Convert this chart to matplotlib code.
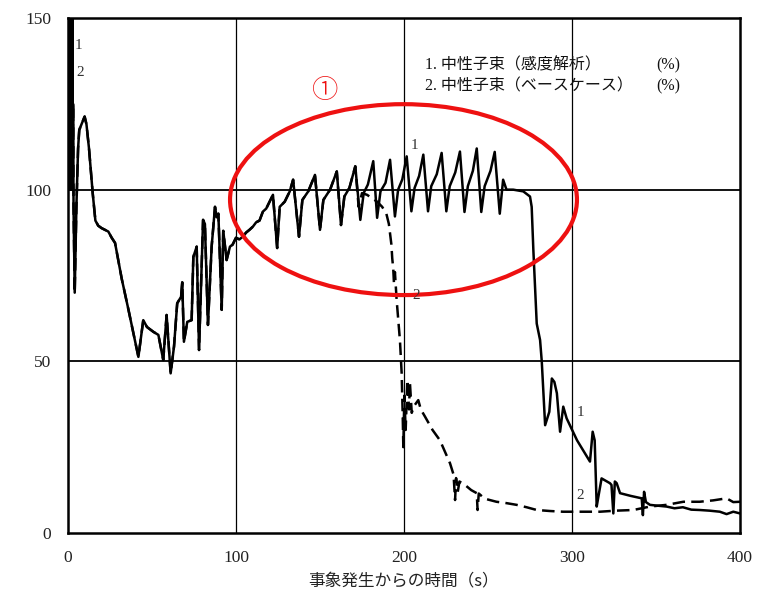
import matplotlib
matplotlib.use("Agg")
import matplotlib.pyplot as plt
from matplotlib.patches import Ellipse

# ---------------- data ----------------
# rapid initial oscillation band (0-2.5 s), drawn as a filled envelope
band_t = [0.0, 1.2, 2.5]
band_lo = [100, 112, 127]
band_hi = [150, 150, 150]

# shared part of both series (they coincide up to ~171 s)
t_common = [0.0, 0.2, 0.4, 0.6, 0.8, 1.0, 1.2, 1.4, 1.6, 1.8, 2.0, 2.2, 2.4, 2.6, 2.8,
            3.0, 3.3, 4.0, 5.0, 6.0,
            6.7, 8.0, 9.9, 11.0, 12.5, 14.7, 16.3, 18.0, 20.0, 24.0, 26.0, 28.0, 32.0,
            36.0, 41.9, 44.8, 47.0, 50.8, 53.8, 56.7, 58.7, 61.1, 63.1, 65.0, 67.3,
            68.0, 69.0, 71.0, 73.6, 74.6, 76.6, 78.0, 80.4, 81.5, 83.3, 85.5, 87.5,
            88.5, 89.5, 91.5, 92.4, 94.4, 96.4, 98.0, 100.0, 102.0, 104.0, 106.0,
            108.0, 110.0, 112.0, 114.0, 116.0, 118.0, 120.0, 122.0, 124.5, 126.0,
            129.0, 132.0, 134.0, 137.5, 139.5, 143.0, 147.0, 150.0, 152.0, 156.0,
            160.0, 162.5, 164.5, 167.5, 171.0]
y_common = [100, 165, 100, 165, 100, 165, 100, 165, 100, 165, 100, 165, 100, 165, 100,
            125, 95, 70, 95, 112,
            117.4, 119, 121.3, 119, 112, 99, 91, 89.5, 88.8, 87.8, 86, 84.5, 74,
            65, 51.3, 62, 60, 58.6, 57.7, 50.4, 63.5, 46.5, 54.3, 66.9, 68.8,
            73, 55.7, 61.5, 62, 80.4, 83.4, 53.3, 91.2, 90, 60.6, 83.4, 95,
            92, 93, 65, 88, 79.5, 83.4, 84, 86, 85.5, 86.3, 87.5,
            88.3, 89.2, 90.5, 91, 93.6, 94.5, 96.5, 98.5, 83, 95,
            96.5, 99.5, 102.9, 86.3, 97, 99.5, 104.3, 88.3, 97, 100,
            105.3, 89.7, 98, 100.5, 106.8]

# series 1 (sensitivity analysis) after 171 s
t1_tail = [174.0, 176.0, 178.5, 181.7, 184.0, 186.0, 189.0, 191.7, 194.6, 196.5, 199.0,
           201.6, 204.4, 206.3, 209.0, 211.5, 214.3, 216.2, 219.5, 222.4, 225.2, 227.2,
           230.5, 233.3, 236.0, 238.0, 241.0, 243.3, 246.0, 248.0, 251.5, 254.0, 257.0,
           259.0, 261.0, 265.0, 271.0, 275.0, 276.0, 277.0, 279.0, 281.0, 282.0, 284.0,
           286.5, 288.0, 289.5, 291.0, 292.9, 294.8, 296.8, 303.0, 310.7, 312.3, 313.5,
           314.7, 315.5, 317.6, 322.6, 323.5, 324.6, 325.5, 326.6, 328.6, 335.0, 341.5,
           342.2, 342.9, 344.0, 346.4, 350.0, 356.3, 361.0, 366.0, 371.0, 376.0, 382.0,
           388.0, 392.0, 396.0, 400.0]
y1_tail = [91.2, 99, 101.5, 108.3, 91.8, 99.5, 102, 108.7, 92.2, 100, 103,
           109.7, 93.7, 100.5, 104, 110.2, 93.7, 101, 104.5, 110.7, 93.7, 101,
           105, 111.1, 93.5, 101, 105.5, 112, 93.5, 101, 105.5, 111, 93,
           102.9, 100, 100, 99.5, 98, 95, 82.4, 61, 56.2, 50, 31.4,
           35.3, 45, 44, 40.7, 29.5, 36.8, 33.4, 27, 20.8, 29.5, 27,
           7.7, 10, 15.9, 14.5, 14, 5.7, 15, 14.5, 11.6, 10.8, 10.1,
           5.2, 12, 9, 8.2, 8.0, 7.7, 7.2, 7.5, 6.8, 6.7, 6.5,
           6.2, 5.5, 6.2, 5.7]

# series 2 (base case) after 171 s
t2_tail = [173.0, 175.0, 178.0, 181.0, 184.0, 187.0, 189.5, 191.0, 192.5, 193.0, 193.6,
           194.0, 194.6, 195.6, 197.6, 198.6, 199.2, 199.6, 200.2, 201.0, 202.0, 203.0,
           203.5, 204.6, 206.0, 208.5, 210.0, 212.5, 217.0, 221.4, 227.4, 229.5, 230.4,
           231.0, 232.0, 233.0, 236.3, 240.0, 243.3, 243.8, 244.5, 248.0, 255.0, 261.0,
           267.0, 273.0, 279.0, 287.0, 294.6, 305.0, 316.6, 326.0, 336.5, 346.4, 356.3,
           366.3, 376.0, 384.0, 392.0, 396.0, 400.0]
y2_tail = [95, 99, 98.5, 97.5, 96.5, 95, 93, 90, 84, 80, 77,
           73, 76, 68, 56, 46.6, 35, 25, 40, 30, 44.6, 36,
           44, 35, 37, 38.7, 36, 33.9, 30, 27, 20.3, 17, 9.6,
           16, 12, 15, 14, 12.5, 11.6, 6.7, 11.5, 10, 9.1, 8.7,
           8.2, 7.5, 6.7, 6.4, 6.2, 6.2, 6.2, 6.5, 6.7, 7.7, 8.2,
           9.1, 9.1, 9.5, 10.1, 9.0, 9.1]

x_ticks = [0, 100, 200, 300, 400]
y_ticks = [0, 50, 100, 150]
x_label = "事象発生からの時間（s）"
legend_lines = ["1. 中性子束（感度解析）", "2. 中性子束（ベースケース）"]
legend_unit = "(%)"
circle_label = "①"

# ---------------- figure ----------------
serif_list = ["Liberation Serif", "Noto Sans CJK JP", "DejaVu Sans"]
plt.rcParams["font.family"] = serif_list
plt.rcParams["path.simplify"] = False

fig = plt.figure(figsize=(7.57, 6.03), dpi=100)
ax = fig.add_axes([68 / 757, 1 - 533 / 603, 672 / 757, 515 / 603])

t1 = t_common + t1_tail
y1 = y_common + y1_tail
t2 = t_common + t2_tail
y2 = y_common + y2_tail

ax.set_xlim(0, 400)
ax.set_ylim(0, 150)

# grid
for xv in x_ticks[1:-1]:
    ax.axvline(xv, color="black", lw=0.9, zorder=1)
for yv in y_ticks[1:-1]:
    ax.axhline(yv, color="black", lw=1.3, zorder=1)

ax.fill_between(band_t, band_lo, band_hi, color="black", lw=0, zorder=4)
ax.plot(t2, y2, color="black", lw=1.8, ls=(0, (5, 2.5)), zorder=3)
ax.plot(t1, y1, color="black", lw=1.8, zorder=4)

# red ellipse highlight
ell_center = (199.7, 97.1)
ell_w, ell_h = 206.5, 55.6
ax.add_patch(Ellipse(ell_center, ell_w, ell_h, fill=False, edgecolor="#ee1111",
                     lw=3.0, zorder=5))
ax.text(153, 129, circle_label, color="#ee1111", fontsize=19, ha="center", va="center",
        family=["Noto Sans CJK JP", "DejaVu Sans"], fontweight="light")

# curve labels
lab_kw = dict(fontsize=11, ha="center", va="center", color="#333333", zorder=6)
ax.text(6.5, 142, "1", **lab_kw)
ax.text(7.5, 134, "2", **lab_kw)
ax.text(206.5, 113, "1", **lab_kw)
ax.text(207.5, 69.3, "2", **lab_kw)
ax.text(304.8, 35.2, "1", **lab_kw)
ax.text(304.8, 10.8, "2", **lab_kw)

# legend text
leg_kw = dict(fontsize=11.5, ha="left", va="center", family=serif_list, color="#111111")
ax.text(212.5, 136.3, legend_lines[0], **leg_kw)
ax.text(212.5, 130.2, legend_lines[1], **leg_kw)
ax.text(350, 136.3, legend_unit, **leg_kw)
ax.text(350, 130.2, legend_unit, **leg_kw)

ax.set_xticks(x_ticks)
ax.set_yticks(y_ticks)
ax.tick_params(length=0, labelsize=12.5, pad=12)
for lab in ax.get_xticklabels() + ax.get_yticklabels():
    lab.set_color("#222222")
ax.set_xlabel(x_label, fontsize=12, labelpad=5, color="#222222",
              family=["Noto Sans CJK JP", "DejaVu Sans"])

for sp in ax.spines.values():
    sp.set_linewidth(1.8)
    sp.set_color("black")

fig.savefig("out.png", dpi=100)
